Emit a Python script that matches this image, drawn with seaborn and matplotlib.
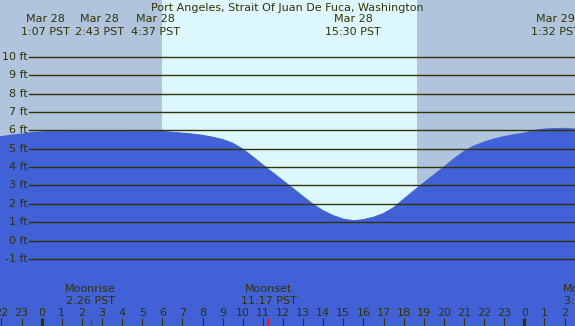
import numpy as np
import pandas as pd
import matplotlib
matplotlib.use("Agg")
import matplotlib.pyplot as plt
import seaborn as sns

# tide height (ft), hours from midnight Mar 28 (PST)
hours = [-2.1, -2.0, -1.5, -1.0, -0.5, 0.0, 0.5, 1.0, 1.5, 2.0, 2.5, 3.0, 3.5, 4.0,
         4.5, 5.0, 5.5, 6.0, 6.5, 7.0, 7.5, 8.0, 8.5, 9.0, 9.5, 10.0, 10.5, 11.0,
         11.5, 12.0, 12.5, 13.0, 13.5, 14.0, 14.5, 15.0, 15.5, 16.0, 16.5, 17.0,
         17.5, 18.0, 18.5, 19.0, 19.5, 20.0, 20.5, 21.0, 21.5, 22.0, 22.5, 23.0,
         23.5, 24.0, 24.5, 25.0, 25.5, 26.0, 26.6]
height = [5.64, 5.66, 5.74, 5.80, 5.87, 5.92, 5.95, 5.96, 5.97, 5.97, 5.97, 5.97, 5.97, 5.97,
          5.96, 5.96, 5.95, 5.94, 5.90, 5.85, 5.80, 5.73, 5.63, 5.50, 5.30, 4.98, 4.56, 4.12,
          3.69, 3.26, 2.83, 2.40, 1.97, 1.62, 1.36, 1.17, 1.08, 1.14, 1.27, 1.47,
          1.79, 2.25, 2.70, 3.14, 3.57, 4.00, 4.45, 4.85, 5.15, 5.36, 5.53, 5.66,
          5.77, 5.85, 6.00, 6.07, 6.10, 6.11, 6.07]

title = "Port Angeles, Strait Of Juan De Fuca, Washington"
tide_dates = ["Mar 28", "Mar 28", "Mar 28", "Mar 28", "Mar 29"]
tide_times = ["1:07 PST", "2:43 PST", "4:37 PST", "15:30 PST", "1:32 PST"]
tide_hours = [1.12, 2.72, 4.62, 15.50, 25.53]
label_shift_px = [-19, 3, 21, 0, 0]   # labels nudged apart to avoid overlap

sunrise, sunset = 5.98, 18.66
moon_names = ["Moonrise", "Moonset", "Moonrise"]
moon_times = ["2:26 PST", "11:17 PST", "3:12 PST"]
moon_hours = [2.43, 11.28, 27.2]

ft_levels = list(range(-1, 11))
hour_ticks = list(range(-2, 27))

night = "#b0c4de"
day = "#ddf7ff"
water = "#4062d6"
ink = "#333300"

W, H = 575, 326
fig = plt.figure(figsize=(W / 100, H / 100), dpi=100, facecolor=night)
ax = fig.add_axes([0, 0, 1, 1])
ax.set_axis_off()
x0, x1 = -2.07, 26.52
y0, y1 = -4.65, 13.1
ax.set_xlim(x0, x1)
ax.set_ylim(y0, y1)

def px_to_ft(py):
    return y1 - (py / H) * (y1 - y0)

def px_to_hr(px):
    return x0 + (px / W) * (x1 - x0)

ax.axvspan(sunrise, sunset, color=day, zorder=0, lw=0)

df = pd.DataFrame({"hour": hours, "ft": height})
ax.fill_between(df["hour"], df["ft"], y0, color=water, lw=0, zorder=1)
sns.lineplot(data=df, x="hour", y="ft", color=water, lw=0.8, ax=ax, zorder=2)

# horizontal level lines and labels
for lv in ft_levels:
    ax.plot([px_to_hr(29), x1], [lv, lv], color=ink, lw=1.0, zorder=3)
    ax.text(px_to_hr(27.5), lv, f"{lv} ft", ha="right", va="center",
            fontsize=8, color=ink, zorder=4)

# title and tide event labels
fig.text(0.5, 1 - 11 / H, title, ha="center", va="baseline", fontsize=8, color=ink)
for d, t, h, s in zip(tide_dates, tide_times, tide_hours, label_shift_px):
    xp = (h - x0) / (x1 - x0) * W + s
    fig.text(xp / W, 1 - 22.5 / H, d, ha="center", va="baseline", fontsize=8, color=ink)
    fig.text(xp / W, 1 - 35 / H, t, ha="center", va="baseline", fontsize=8, color=ink)

# moon labels
for n, t, h in zip(moon_names, moon_times, moon_hours):
    ax.text(h, px_to_ft(291.5), n, ha="center", va="baseline", fontsize=8, color=ink)
    ax.text(h, px_to_ft(304), t, ha="center", va="baseline", fontsize=8, color=ink)

# hour labels and ticks
for h in hour_ticks:
    ax.text(h, px_to_ft(316), str(h % 24), ha="center", va="baseline",
            fontsize=8, color=ink)
    lw = 2.3 if h % 24 == 0 else 0.8
    ax.plot([h, h], [px_to_ft(318), y0], color=ink, lw=lw, solid_capstyle="butt")
for h in moon_hours:
    ax.plot([h, h], [px_to_ft(318), y0], color="red", lw=0.8, solid_capstyle="butt")

fig.savefig("out.png", dpi=100, facecolor=night)
